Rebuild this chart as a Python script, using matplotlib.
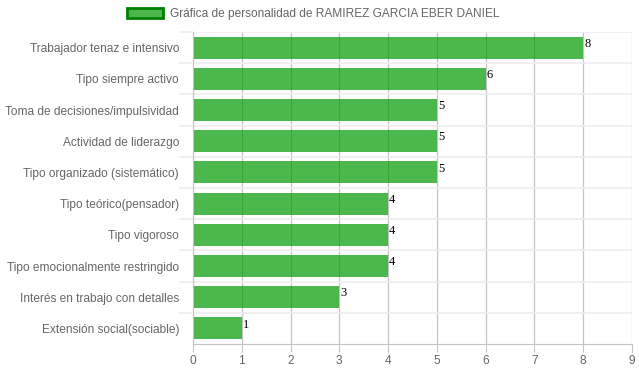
import matplotlib.pyplot as plt
from matplotlib.patches import Patch

plt.rcParams["font.family"] = ["Liberation Sans", "DejaVu Sans"]

categorias = [
    "Trabajador tenaz e intensivo",
    "Tipo siempre activo",
    "Toma de decisiones/impulsividad",
    "Actividad de liderazgo",
    "Tipo organizado (sistemático)",
    "Tipo teórico(pensador)",
    "Tipo vigoroso",
    "Tipo emocionalmente restringido",
    "Interés en trabajo con detalles",
    "Extensión social(sociable)",
]
valores = [8, 6, 5, 5, 5, 4, 4, 4, 3, 1]
titulo = "Gráfica de personalidad de RAMIREZ GARCIA EBER DANIEL"

fill = (0.0, 0.6, 0.0, 0.7)
edge = "#008000"
txt = "#666666"
vgrid = "#c4c4c4"
hgrid = "#ededed"

fig = plt.figure(figsize=(6.39, 3.72), dpi=100)
ax = fig.add_axes([193 / 639, 1 - 344 / 372, 439 / 639, 312 / 372])

pos = list(range(len(categorias)))
ax.barh(pos, valores, height=0.7, color=fill, zorder=2)
for p, v in zip(pos, valores):
    ax.text(v + 0.02, p - 0.12, str(v), fontsize=9, family="Liberation Serif",
            color="black", ha="left", va="center", zorder=3)

ax.set_xlim(0, 9)
ax.set_ylim(len(categorias) - 0.5, -0.5)
ax.set_xticks(range(10))
ax.set_yticks(pos)
ax.set_yticklabels(categorias)
ax.set_yticks([p + 0.5 for p in pos[:-1]] + [-0.5], minor=True)

# lineas de guia detras de las barras translucidas
for x in range(10):
    ax.axvline(x, color=vgrid, linewidth=0.9, zorder=0)
for y in [p + 0.5 for p in pos[:-1]] + [-0.5]:
    ax.axhline(y, color=hgrid, linewidth=1.2, zorder=0)

ax.tick_params(axis="x", length=6, color=vgrid, labelsize=8.6,
               labelcolor=txt, pad=2)
ax.tick_params(axis="y", which="major", length=0, labelsize=8.6, labelcolor=txt, pad=10)
ax.tick_params(axis="y", which="minor", length=10, color=hgrid, width=1.2)

for s in ["top", "right"]:
    ax.spines[s].set_visible(False)
ax.spines["left"].set_color(vgrid)
ax.spines["bottom"].set_color(vgrid)

h = Patch(facecolor=fill, edgecolor=edge, linewidth=2)
fig.legend([h], [titulo], loc="center", bbox_to_anchor=(0.49, 0.962),
           frameon=False, fontsize=8.6, labelcolor=txt, handlelength=3.0,
           handleheight=0.9, handletextpad=0.6)

fig.savefig("out.png", dpi=100)
